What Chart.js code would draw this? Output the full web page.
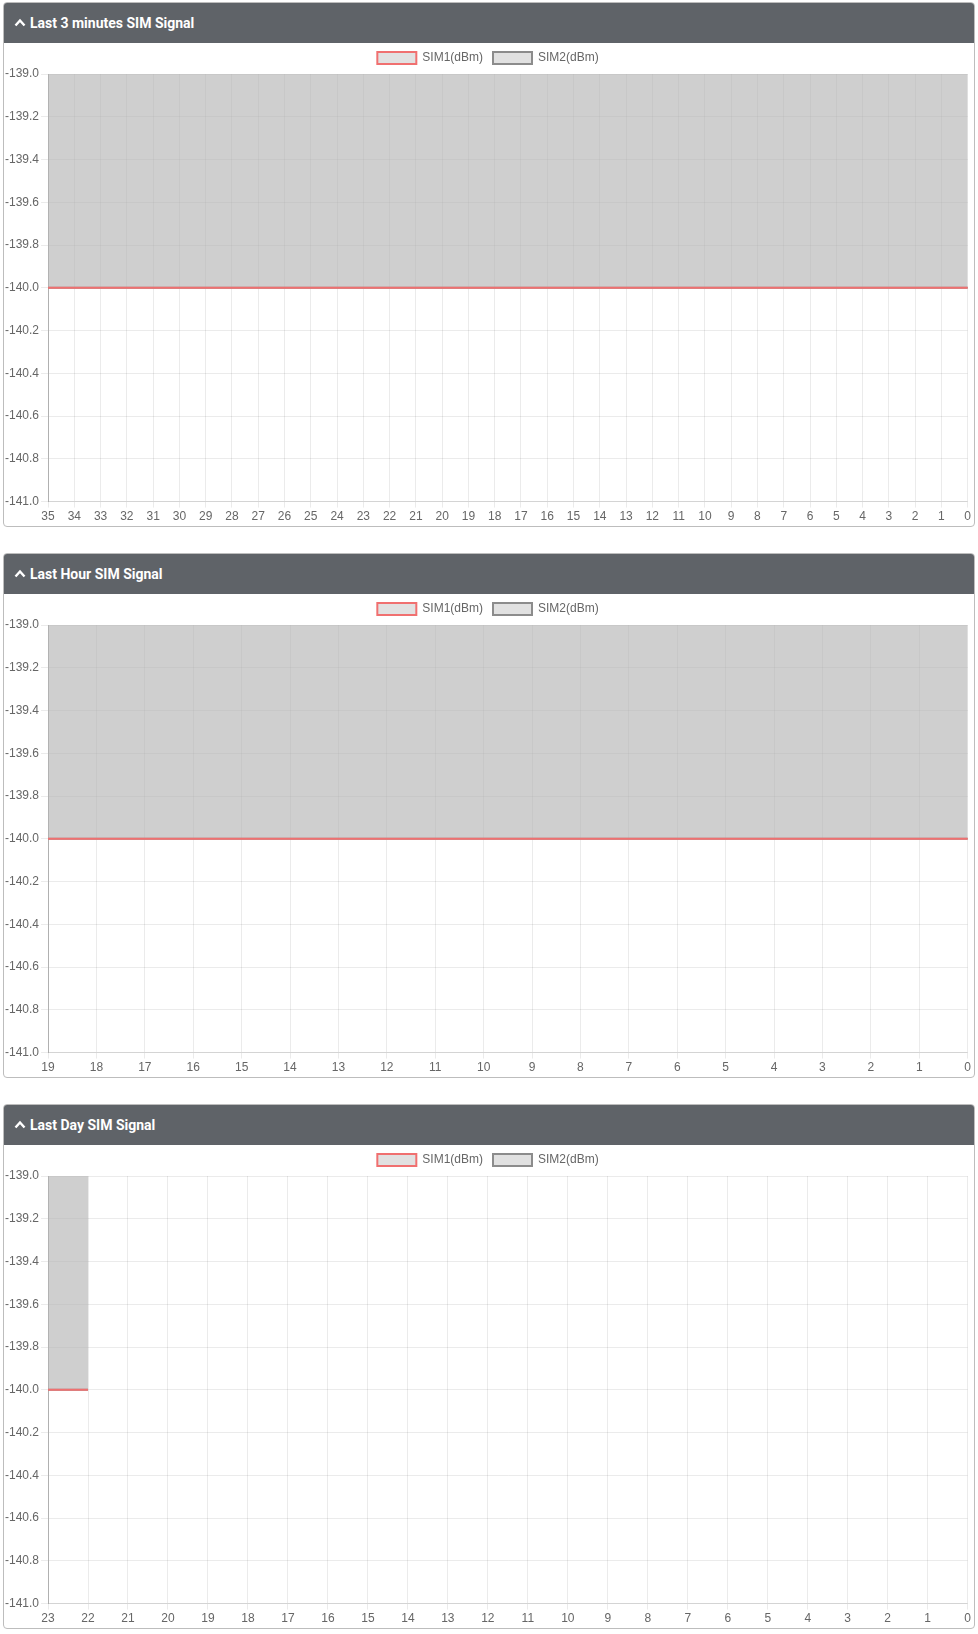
<!DOCTYPE html>
<html>
<head>
<meta charset="utf-8">
<script src="https://cdn.jsdelivr.net/npm/chart.js@4.4.0/dist/chart.umd.min.js"></script>
<style>
  body { margin: 0; background: #fff; font-family: Roboto, "Liberation Sans", Arial, sans-serif; }
  .panel {
    position: absolute; left: 3px; width: 970px; height: 523px;
    border: 1px solid #bdbdbd; border-radius: 4px; background: #fff;
  }
  .panel-head {
    height: 40px; background: #5f6368; color: #fff; border-radius: 3px 3px 0 0;
    font-weight: bold; font-size: 14px; line-height: 40px; padding-left: 26px; position: relative;
  }
  .panel-head svg { position: absolute; left: 10px; top: 15px; }
  .chart-box { position: absolute; left: -1px; top: 39px; width: 970px; height: 484px; }
</style>
</head>
<body>

<div class="panel" style="top:2px">
  <div class="panel-head"><svg width="12" height="9" viewBox="0 0 12 9"><polyline points="1.5,7.5 6,2.5 10.5,7.5" fill="none" stroke="#fff" stroke-width="2.4"/></svg>Last 3 minutes SIM Signal</div>
  <div class="chart-box"><canvas id="chart3min"></canvas></div>
</div>

<div class="panel" style="top:553px">
  <div class="panel-head"><svg width="12" height="9" viewBox="0 0 12 9"><polyline points="1.5,7.5 6,2.5 10.5,7.5" fill="none" stroke="#fff" stroke-width="2.4"/></svg>Last Hour SIM Signal</div>
  <div class="chart-box"><canvas id="chartHour"></canvas></div>
</div>

<div class="panel" style="top:1104px">
  <div class="panel-head"><svg width="12" height="9" viewBox="0 0 12 9"><polyline points="1.5,7.5 6,2.5 10.5,7.5" fill="none" stroke="#fff" stroke-width="2.4"/></svg>Last Day SIM Signal</div>
  <div class="chart-box"><canvas id="chartDay"></canvas></div>
</div>

<script>
// Labels and values
const labels3min = ["35","34","33","32","31","30","29","28","27","26","25","24","23","22","21","20","19","18",
                    "17","16","15","14","13","12","11","10","9","8","7","6","5","4","3","2","1","0"];
const sim1_3min = [-140,-140,-140,-140,-140,-140,-140,-140,-140,-140,-140,-140,-140,-140,-140,-140,-140,-140,
                   -140,-140,-140,-140,-140,-140,-140,-140,-140,-140,-140,-140,-140,-140,-140,-140,-140,-140];
const sim2_3min = [-140,-140,-140,-140,-140,-140,-140,-140,-140,-140,-140,-140,-140,-140,-140,-140,-140,-140,
                   -140,-140,-140,-140,-140,-140,-140,-140,-140,-140,-140,-140,-140,-140,-140,-140,-140,-140];

const labelsHour = ["19","18","17","16","15","14","13","12","11","10","9","8","7","6","5","4","3","2","1","0"];
const sim1_hour = [-140,-140,-140,-140,-140,-140,-140,-140,-140,-140,-140,-140,-140,-140,-140,-140,-140,-140,-140,-140];
const sim2_hour = [-140,-140,-140,-140,-140,-140,-140,-140,-140,-140,-140,-140,-140,-140,-140,-140,-140,-140,-140,-140];

const labelsDay = ["23","22","21","20","19","18","17","16","15","14","13","12","11","10","9","8","7","6","5","4","3","2","1","0"];
const sim1_day = [-140,-140,null,null,null,null,null,null,null,null,null,null,null,null,null,null,null,null,null,null,null,null,null,null];
const sim2_day = [-140,-140,null,null,null,null,null,null,null,null,null,null,null,null,null,null,null,null,null,null,null,null,null,null];

const yMin = -141, yMax = -139, yStep = 0.2;

Chart.defaults.font.family = "'Liberation Sans', Arial, Helvetica, sans-serif";
Chart.defaults.font.size = 12;
Chart.defaults.color = "#666";

function makeChart(id, labels, sim1, sim2) {
  new Chart(document.getElementById(id), {
    type: "line",
    data: {
      labels: labels,
      datasets: [{
        label: "SIM1(dBm)",
        data: sim1,
        borderColor: "#f07070",
        backgroundColor: "rgba(180,180,180,0.4)",
        borderWidth: 2,
        pointRadius: 0,
        fill: "end",
        tension: 0
      }, {
        label: "SIM2(dBm)",
        data: sim2,
        borderColor: "#8c8c8c",
        backgroundColor: "rgba(180,180,180,0.4)",
        borderWidth: 2,
        pointRadius: 0,
        fill: "end",
        tension: 0
      }]
    },
    options: {
      responsive: true,
      maintainAspectRatio: false,
      animation: false,
      layout: { padding: { left: 0, right: 0, top: 0, bottom: 0 } },
      plugins: {
        legend: {
          labels: { boxWidth: 39, boxHeight: 12, padding: 10, font: { size: 12 } }
        },
        tooltip: { enabled: false }
      },
      scales: {
        x: {
          grid: { color: "rgba(0,0,0,0.08)", tickLength: 6 },
          border: { color: "rgba(0,0,0,0.1)" },
          ticks: { maxRotation: 0, autoSkip: false, padding: 2 }
        },
        y: {
          min: yMin,
          max: yMax,
          grid: { color: "rgba(0,0,0,0.08)", tickLength: 7 },
          border: { color: "rgba(0,0,0,0.25)" },
          ticks: { stepSize: yStep, padding: 2, callback: v => v.toFixed(1) }
        }
      }
    }
  });
}

makeChart("chart3min", labels3min, sim1_3min, sim2_3min);
makeChart("chartHour", labelsHour, sim1_hour, sim2_hour);
makeChart("chartDay", labelsDay, sim1_day, sim2_day);
</script>
</body>
</html>
